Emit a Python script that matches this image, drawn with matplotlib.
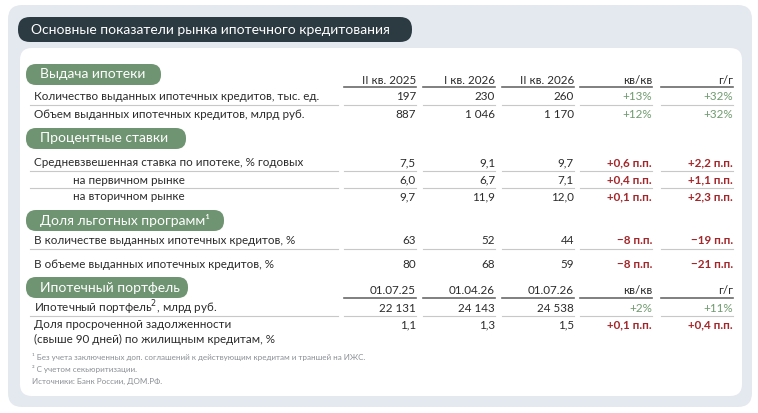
import matplotlib
matplotlib.use("Agg")
import matplotlib.pyplot as plt
from matplotlib.patches import FancyBboxPatch

BG_OUT = "#e4e9ef"
DARK = "#2c3a42"
GREEN_PILL = "#6f9471"
TXT = "#2b2b2b"
POS = "#6f9a6f"
NEG = "#a3262a"
LINE = "#c8c8c8"
FOOT = "#8a8f94"

plt.rcParams["font.family"] = ["Lato", "DejaVu Sans"]

title = "Основные показатели рынка ипотечного кредитования"

sections = ["Выдача ипотеки", "Процентные ставки", "Доля льготных программ¹", "Ипотечный портфель"]
headers_q = ["II кв. 2025", "I кв. 2026", "II кв. 2026", "кв/кв", "г/г"]
headers_d = ["01.07.25", "01.04.26", "01.07.26", "кв/кв", "г/г"]

issue_labels = ["Количество выданных ипотечных кредитов, тыс. ед.",
                "Объем выданных ипотечных кредитов, млрд руб."]
issue_vals = [["197", "230", "260", "+13%", "+32%"],
              ["887", "1 046", "1 170", "+12%", "+32%"]]

rate_labels = ["Средневзвешенная ставка по ипотеке, % годовых",
               "на первичном рынке", "на вторичном рынке"]
rate_vals = [["7,5", "9,1", "9,7", "+0,6 п.п.", "+2,2 п.п."],
             ["6,0", "6,7", "7,1", "+0,4 п.п.", "+1,1 п.п."],
             ["9,7", "11,9", "12,0", "+0,1 п.п.", "+2,3 п.п."]]

pref_labels = ["В количестве выданных ипотечных кредитов, %",
               "В объеме выданных ипотечных кредитов, %"]
pref_vals = [["63", "52", "44", "−8 п.п.", "−19 п.п."],
             ["80", "68", "59", "−8 п.п.", "−21 п.п."]]

port_labels = ["Ипотечный портфель$^2$, млрд руб.",
               "Доля просроченной задолженности\n(свыше 90 дней) по жилищным кредитам, %"]
port_vals = [["22 131", "24 143", "24 538", "+2%", "+11%"],
             ["1,1", "1,3", "1,5", "+0,1 п.п.", "+0,4 п.п."]]

footnotes = ["¹ Без учета заключенных доп. соглашений к действующим кредитам и траншей на ИЖС.",
             "² С учетом секьюритизации.",
             "Источники: Банк России, ДОМ.РФ."]

col_right = [416, 495, 574, 652, 733]
col_w = 72
FS = 8.4

fig = plt.figure(figsize=(7.58, 4.13), dpi=100)
ax = fig.add_axes([0, 0, 1, 1])
ax.set_xlim(0, 758)
ax.set_ylim(413, 0)
ax.axis("off")


def rbox(x, y, w, h, color, r):
    ax.add_patch(FancyBboxPatch((x + r, y + r), w - 2 * r, h - 2 * r,
                                boxstyle=f"round,pad={r}", fc=color, ec="none"))


rbox(8, 5, 744, 402, BG_OUT, 14)
rbox(20, 48, 722, 348, "white", 12)
rbox(18, 17, 394, 25, DARK, 12)
ax.text(31, 29.5, title, color="white", fontsize=10, va="center")


def pill(y, w, text):
    rbox(26, y, w, 21, GREEN_PILL, 10)
    ax.text(40, y + 10.5, text, color="white", fontsize=10, va="center")


def header(y, labels):
    for xr, t in zip(col_right, labels):
        ax.text(xr, y, t, color=TXT, fontsize=FS, ha="right", va="center")
        ax.plot([xr - col_w, xr], [y + 7, y + 7], color="#6a6a6a", lw=1.2)


def rows(ys, labels, vals, indent=None):
    for k, (y, lab, v) in enumerate(zip(ys, labels, vals)):
        x0 = 34 if indent is None or not indent[k] else 73
        va = "top" if "\n" in lab else "center"
        yy = y - 6 if "\n" in lab else y
        ax.text(x0, yy, lab, color=TXT, fontsize=FS, va=va, linespacing=1.4)
        for i, (xr, t) in enumerate(zip(col_right, v)):
            if i < 3:
                c = TXT
            elif t.endswith("%"):
                c = POS
            else:
                c = NEG
            ax.text(xr, y, t, color=c, fontsize=FS, ha="right", va="center",
                    fontweight="bold" if (i >= 3 and "п.п." in t) else "normal")
        if k < len(ys) - 1:
            ax.plot([30, 338], [y + 8, y + 8], color=LINE, lw=0.8)
            for xr in col_right:
                ax.plot([xr - col_w, xr], [y + 8, y + 8], color=LINE, lw=0.8)


pill(64, 135, sections[0])
header(80, headers_q)
rows([97, 114], issue_labels, issue_vals)

pill(128, 160, sections[1])
rows([163, 180, 197], rate_labels, rate_vals, indent=[False, True, True])

pill(210, 198, sections[2])
rows([241, 264], pref_labels, pref_vals)

pill(277, 162, sections[3])
header(291, headers_d)
rows([308, 325], port_labels, port_vals)

for i, f in enumerate(footnotes):
    ax.text(32, 357 + i * 12, f, color=FOOT, fontsize=5.8, va="center")

fig.savefig("out.png", dpi=100, facecolor="white")
